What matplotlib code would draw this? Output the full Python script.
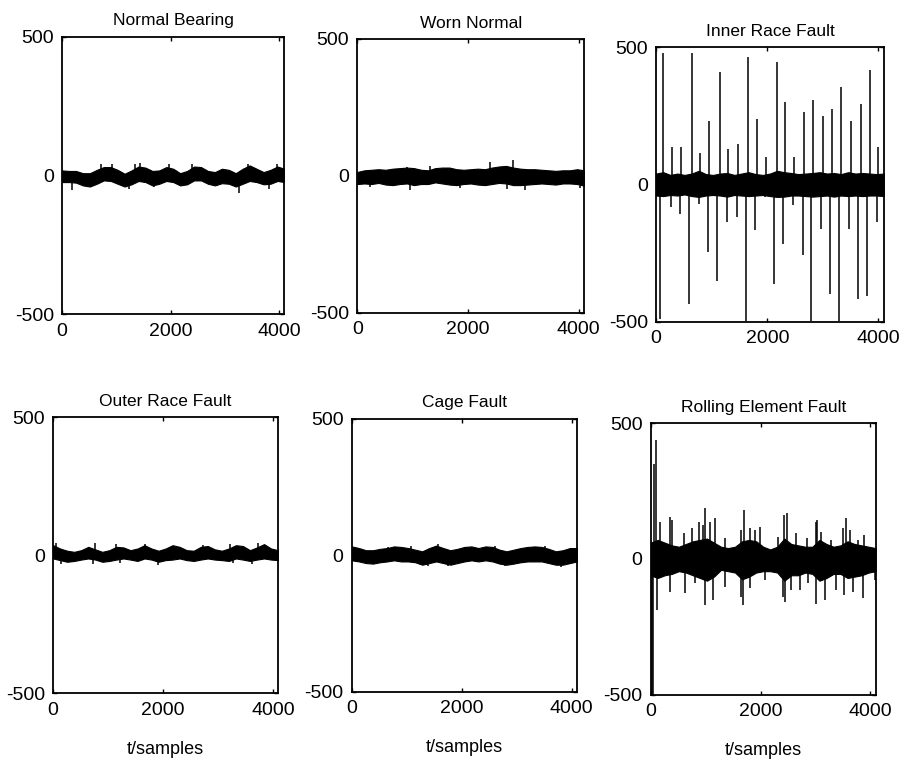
import numpy as np
import matplotlib.pyplot as plt

plt.rcParams['font.family'] = ['Liberation Sans', 'DejaVu Sans']
plt.rcParams['axes.unicode_minus'] = False

# envelope grid: one value every 128 samples, 0..4096
grid = np.arange(0, 4097, 128)

titles = ['Normal Bearing', 'Worn Normal', 'Inner Race Fault',
          'Outer Race Fault', 'Cage Fault', 'Rolling Element Fault']

# Normal Bearing
nb_hi = [18, 16, 16, 8, 8, 20, 30, 30, 20, 6, 18, 32, 28, 16, 18, 30, 24,
         8, 16, 32, 30, 16, 12, 24, 20, 8, 24, 36, 24, 12, 20, 32, 24]
nb_lo = [-24, -24, -26, -36, -40, -30, -18, -20, -30, -40, -32, -20, -24, -36, -30, -20, -24,
         -36, -32, -18, -18, -30, -36, -28, -30, -40, -30, -20, -24, -32, -30, -20, -24]
nb_spk_x = [713, 916, 1347, 1439, 1962, 2392, 3426, 3961, 191, 1224, 1685, 3253, 3807]
nb_spk_y = [42, 42, 42, 44, 42, 40, 42, 40, -54, -48, -42, -62, -48]

# Worn Normal
wn_hi = [14, 20, 22, 24, 22, 26, 28, 30, 28, 22, 20, 28, 30, 30, 24, 22, 24,
         26, 24, 30, 34, 36, 30, 26, 24, 24, 22, 20, 18, 20, 20, 24, 20]
wn_lo = [-30, -28, -30, -26, -32, -34, -30, -28, -34, -30, -30, -24, -28, -32, -34, -30, -28,
         -32, -34, -30, -26, -28, -34, -34, -32, -30, -28, -30, -32, -28, -28, -30, -36]
wn_spk_x = [2398, 2819, 1316, 896, 956, 1857, 2698, 3029, 4021, 234]
wn_spk_y = [52, 56, 35, 32, -53, -45, -49, -51, -45, -40]

# Inner Race Fault
ir_hi = [40, 45, 35, 40, 35, 40, 50, 38, 35, 40, 42, 35, 40, 45, 38, 35, 40,
         50, 45, 42, 38, 40, 42, 45, 40, 42, 38, 45, 40, 42, 40, 38, 40]
ir_lo = [-40, -42, -38, -40, -36, -42, -45, -40, -38, -40, -44, -38, -40, -42, -40, -38, -42,
         -45, -44, -40, -40, -42, -44, -42, -40, -44, -40, -42, -40, -42, -40, -40, -42]
ir_spk_x = [131, 647, 1150, 1658, 2168, 2317, 2665, 2826, 3000, 3162, 3323, 3508, 3677, 3844,
            282, 449, 790, 958, 1288, 1467, 1809, 1976, 2484, 4000,
            72, 593, 1090, 1611, 2120, 2287, 2635, 2785, 2970, 3126, 3293, 3467, 3634, 3796,
            264, 431, 772, 928, 1270, 1450, 1778, 1958, 2467, 3982]
ir_spk_y = [480, 480, 409, 466, 445, 300, 263, 306, 249, 275, 354, 230, 294, 417,
            136, 135, 114, 233, 130, 146, 239, 99, 99, 136,
            -490, -434, -350, -495, -361, -216, -258, -495, -161, -398, -495, -161, -416, -404,
            -83, -107, -70, -246, -137, -119, -167, -46, -76, -137]

# Outer Race Fault
or_hi = [36, 24, 16, 12, 18, 30, 21, 12, 18, 30, 28, 18, 24, 36, 24, 16, 24,
         36, 30, 18, 16, 30, 33, 21, 16, 24, 36, 33, 18, 28, 40, 24, 18]
or_lo = [-12, -18, -24, -21, -16, -12, -16, -24, -21, -16, -12, -16, -21, -12, -16, -24, -18,
         -16, -12, -18, -21, -16, -12, -16, -18, -21, -12, -16, -21, -16, -12, -16, -18]
or_spk_x = [61, 759, 1153, 1669, 2732, 3733, 3217, 152, 728, 1214, 1912, 3278, 3612]
or_spk_y = [45, 45, 40, 42, 38, 45, 42, -32, -32, -30, -35, -30, -32]

# Cage Fault
cf_hi = [32, 26, 18, 18, 23, 26, 32, 30, 26, 20, 14, 26, 35, 26, 18, 23, 30,
         32, 26, 32, 30, 20, 14, 20, 26, 30, 32, 30, 23, 14, 18, 26, 26]
cf_lo = [-19, -23, -29, -31, -26, -23, -19, -23, -23, -26, -35, -29, -23, -29, -35, -29, -23,
         -19, -23, -19, -23, -31, -35, -31, -26, -23, -23, -23, -29, -35, -35, -29, -23]
cf_spk_x = [1566, 655, 1080, 2597, 3507, 1383, 1748, 2779, 3811]
cf_spk_y = [40, 30, 32, 35, 33, -40, -38, -40, -42]

# Rolling Element Fault
re_hi = [60, 70, 60, 50, 45, 55, 65, 70, 75, 60, 45, 40, 45, 65, 70, 65, 45,
         35, 45, 75, 55, 50, 45, 45, 70, 55, 45, 50, 65, 55, 50, 45, 40]
re_lo = [-60, -70, -60, -55, -45, -50, -60, -70, -80, -65, -40, -45, -50, -75, -65, -50, -45,
         -45, -50, -80, -60, -60, -50, -55, -80, -70, -55, -55, -70, -65, -60, -50, -45]
re_spk_x = [60, 90, 20, 45, 110,
            164, 346, 382, 610, 746, 874, 953, 995, 1074, 1165, 1347, 1650, 1699, 1802, 1893,
            1984, 2317, 2427, 2488, 2651, 2851, 3015, 3034, 3094, 3289, 3501, 3549, 3622, 3774,
            3883,
            346, 619, 801, 983, 1134, 1347, 1650, 1681, 1802, 2075, 2409, 2439, 2560, 2712, 2863,
            3015, 3167, 3380, 3513, 3683, 3865, 4077]
re_spk_y = [350, 438, -500, -500, -187,
            137, 156, 143, 94, 113, 137, 125, 187, 137, 150, 76, 107, 180, 113, 107,
            116, 82, 162, 168, 94, 76, 137, 144, 100, 70, 113, 150, 107, 70,
            88,
            -120, -126, -90, -169, -151, -102, -139, -169, -108, -77, -139, -157, -114, -114, -90,
            -166, -151, -114, -133, -120, -145, -77]

signals = [(nb_hi, nb_lo, nb_spk_x, nb_spk_y),
           (wn_hi, wn_lo, wn_spk_x, wn_spk_y),
           (ir_hi, ir_lo, ir_spk_x, ir_spk_y),
           (or_hi, or_lo, or_spk_x, or_spk_y),
           (cf_hi, cf_lo, cf_spk_x, cf_spk_y),
           (re_hi, re_lo, re_spk_x, re_spk_y)]

# axes boxes in figure fractions (left, bottom, width, height)
boxes = [[0.069, 0.587, 0.247, 0.365],
         [0.397, 0.589, 0.252, 0.360],
         [0.729, 0.577, 0.253, 0.361],
         [0.059, 0.089, 0.250, 0.363],
         [0.391, 0.091, 0.250, 0.359],
         [0.723, 0.087, 0.250, 0.357]]

fig = plt.figure(figsize=(9, 7.61), dpi=100)

for i in range(6):
    hi, lo, sx, sy = signals[i]
    ax = fig.add_axes(boxes[i])
    ax.fill_between(grid, lo, hi, color='black', linewidth=0.8, edgecolor='black')
    ax.vlines(sx, 0, sy, color='black', linewidth=1.1)
    ax.set_xlim(0, 4096)
    ax.set_ylim(-500, 500)
    ax.set_xticks([0, 2000, 4000])
    ax.set_yticks([-500, 0, 500])
    ax.tick_params(direction='in', length=3, width=1, top=True, right=True,
                   labelsize=14, pad=6)
    for s in ax.spines.values():
        s.set_linewidth(1.3)
    ax.set_title(titles[i], fontsize=12.5, pad=8)
    if i >= 3:
        ax.set_xlabel('t/samples', fontsize=13, labelpad=16)

fig.savefig('out.png', dpi=100)
